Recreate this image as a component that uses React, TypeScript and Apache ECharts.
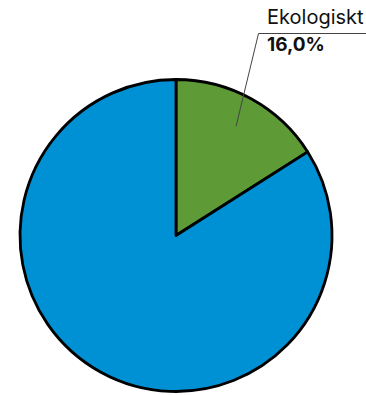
import React, { useEffect, useRef } from "react";
import * as echarts from "echarts";

const categories = ["Ekologiskt", "Övrigt"];
const values = [16.0, 84.0];
const colors = ["#5E9B36", "#0091D5"];

const CX = 176;
const CY = 235.5;
const R = 156;

export default function App() {
  const ref = useRef<HTMLDivElement>(null);

  useEffect(() => {
    if (!ref.current) return;
    const chart = echarts.init(ref.current, null, { renderer: "svg" });
    const total = values.reduce((a, b) => a + b, 0);

    // leader line anchor: inside the first slice, at its mid angle
    const mid = (Math.PI * 2 * (values[0] / total)) / 2;
    const sx = CX + Math.sin(mid) * R * 0.8;
    const sy = CY - Math.cos(mid) * R * 0.8;
    const elbow: [number, number] = [258.5, 33.5];

    const data = categories.map((name, i) => ({
      name,
      value: values[i],
      itemStyle: { color: colors[i] },
      label:
        i === 0
          ? {
              show: true,
              formatter: (p: any) =>
                `{a|${p.name}}\n{b|${p.value.toFixed(1).replace(".", ",")}%}`,
            }
          : { show: false },
      labelLine: { show: false },
    }));

    chart.setOption({
      animation: false,
      series: [
        {
          type: "pie",
          center: [CX, CY],
          radius: R,
          startAngle: 90,
          clockwise: true,
          data,
          itemStyle: { borderColor: "#000", borderWidth: 2.8 },
          emphasis: { disabled: true },
          label: {
            position: "outside",
            overflow: "none",
            width: 200,
            alignTo: "none",
            color: "#111",
            fontFamily: "Inter",
            rich: {
              a: { fontSize: 20, fontFamily: "Inter", color: "#111", lineHeight: 29 },
              b: { fontSize: 19, fontWeight: "bold", fontFamily: "Inter", color: "#111", lineHeight: 26 },
            },
          },
          labelLayout: () => ({
            x: 267,
            y: 2,
            align: "left",
            verticalAlign: "top",
          }),
        },
      ],
      graphic: [
        {
          type: "polyline",
          z: 100,
          shape: { points: [[sx, sy], elbow, [366, elbow[1]]] },
          style: { stroke: "#444", lineWidth: 1, fill: "none" },
        },
      ],
    });
    return () => chart.dispose();
  }, []);

  return (
    <div
      ref={ref}
      style={{ position: "fixed", left: 0, top: 0, width: 366, height: 395, background: "#fff" }}
    />
  );
}
